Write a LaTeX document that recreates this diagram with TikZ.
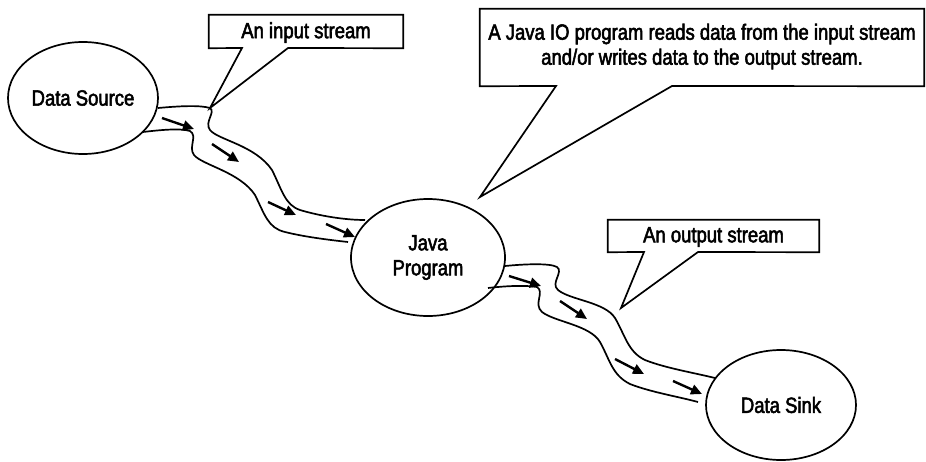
\documentclass[tikz,border=0pt]{standalone}
\usepackage{fontspec}
\setmainfont{Liberation Sans}[FakeStretch=0.84,FakeBold=2.4]
\usetikzlibrary{shapes.geometric,arrows.meta}
\begin{document}
\begin{tikzpicture}[x=1pt,y=-1pt,
  every node/.style={font=\fontsize{22}{25}\selectfont},
  blob/.style={draw,ellipse,line width=1.7pt,inner sep=0pt,align=center},
  callout/.style={draw,line width=1.7pt,fill=white,line join=miter},
  bank/.style={line width=1.7pt},
  flow/.style={line width=2.4pt,-{Triangle[length=11pt,width=10pt]}}]
\useasboundingbox (0,0) rectangle (926,461);
% ellipses
\node[blob,minimum width=150pt,minimum height=112pt] (src) at (83,98) {Data Source};
\node[blob,minimum width=154pt,minimum height=117pt] (java) at (428,257.5) {Java\\Program};
\node[blob,minimum width=150pt,minimum height=110pt] (sink) at (781,405) {Data Sink};
% input stream banks
\draw[bank] (158,108) .. controls (180,106) and (200,105) .. (210,108)
  .. controls (216,112) and (204,122) .. (210,130)
  .. controls (218,140) and (255,145) .. (272,170)
  .. controls (282,190) and (285,205) .. (300,210)
  .. controls (320,216) and (345,220) .. (365,220);
\draw[bank] (143,132) .. controls (160,130) and (180,128) .. (190,131)
  .. controls (198,136) and (188,147) .. (194,155)
  .. controls (202,165) and (240,172) .. (255,195)
  .. controls (265,215) and (268,228) .. (285,232)
  .. controls (305,237) and (330,240) .. (348,242);
% output stream banks
\draw[bank] (505,266) .. controls (525,264) and (550,263) .. (557,267)
  .. controls (564,272) and (550,283) .. (558,290)
  .. controls (570,300) and (605,302) .. (615,318)
  .. controls (625,335) and (628,352) .. (645,360)
  .. controls (665,368) and (695,373) .. (715,378);
\draw[bank] (488,288) .. controls (505,286) and (525,285) .. (537,287)
  .. controls (545,292) and (533,304) .. (542,312)
  .. controls (555,322) and (590,325) .. (600,342)
  .. controls (610,360) and (612,375) .. (630,384)
  .. controls (650,392) and (680,397) .. (698,402);
% flow arrows
\draw[flow] (162,118) -- (194,129);
\draw[flow] (212,144) -- (239,162);
\draw[flow] (268,202) -- (296,215);
\draw[flow] (326,224) -- (355,237);
\draw[flow] (509,276) -- (541,286);
\draw[flow] (560,301) -- (587,319);
\draw[flow] (615,359) -- (644,374);
\draw[flow] (673,381) -- (702,394);
% callouts
\coordinate (t1) at (210,108);
\coordinate (t2) at (480,197);
\coordinate (t3) at (621,308);
\node[inner sep=0pt,minimum width=194pt,minimum height=33pt] (c1) at (306,31.5) {};
\draw[callout] (c1.north west) -- (c1.north east) -- (c1.south east) -- (288,48) -- (t1) -- (242,48) -- (c1.south west) -- cycle;
\node[inner sep=0pt,minimum width=444pt,minimum height=77pt] (c2) at (702,47.5) {};
\draw[callout] (c2.north west) -- (c2.north east) -- (c2.south east) -- (672,86) -- (t2) -- (556,86) -- (c2.south west) -- cycle;
\node[inner sep=0pt,minimum width=211pt,minimum height=32pt] (c3) at (713.5,236) {};
\draw[callout] (c3.north west) -- (c3.north east) -- (c3.south east) -- (698,252) -- (t3) -- (644,252) -- (c3.south west) -- cycle;
\node[inner sep=0pt] (l1) at ([yshift=-1pt]c1) {An input stream};
\node[inner sep=0pt,align=center] (l2) at ([yshift=1pt]c2) {A Java IO program reads data from the input stream\\and/or writes data to the output stream.};
\node[inner sep=0pt] (l3) at ([yshift=-1pt]c3) {An output stream};
\end{tikzpicture}
\end{document}
